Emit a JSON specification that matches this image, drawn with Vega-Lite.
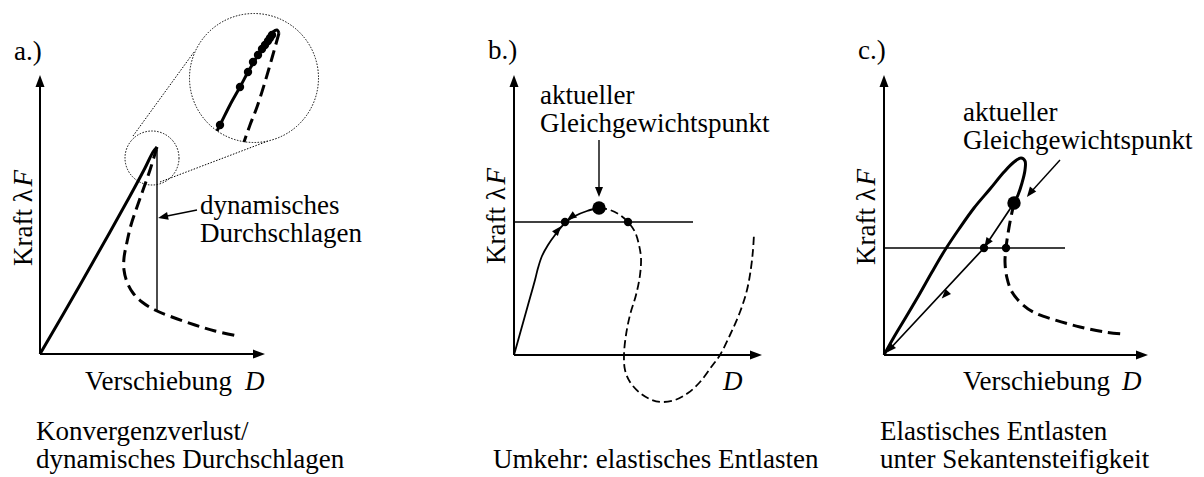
{
  "$schema": "https://vega.github.io/schema/vega-lite/v6.json",
  "width": 1204,
  "height": 477,
  "autosize": {"type": "fit", "contains": "padding"},
  "padding": 0,
  "background": "white",
  "config": {"view": {"stroke": null}, "text": {"font": "Liberation Serif", "fontSize": 27, "color": "black"}},
  "datasets": {
    "curves": [
      {"g": "aAxisY", "k": "axis", "i": 0, "x": 40, "y": 354}, {"g": "aAxisY", "k": "axis", "i": 1, "x": 40, "y": 80},
      {"g": "aAxisX", "k": "axis", "i": 0, "x": 40, "y": 354}, {"g": "aAxisX", "k": "axis", "i": 1, "x": 258, "y": 354},
      {"g": "aLoad", "k": "stable", "i": 0, "x": 40, "y": 354}, {"g": "aLoad", "k": "stable", "i": 1, "x": 80, "y": 285},
      {"g": "aLoad", "k": "stable", "i": 2, "x": 110, "y": 232}, {"g": "aLoad", "k": "stable", "i": 3, "x": 130, "y": 196},
      {"g": "aLoad", "k": "stable", "i": 4, "x": 145, "y": 168}, {"g": "aLoad", "k": "stable", "i": 5, "x": 153, "y": 152},
      {"g": "aLoad", "k": "stable", "i": 6, "x": 157, "y": 147},
      {"g": "aPost", "k": "unstable", "i": 0, "x": 157, "y": 147}, {"g": "aPost", "k": "unstable", "i": 1, "x": 150, "y": 170},
      {"g": "aPost", "k": "unstable", "i": 2, "x": 143, "y": 190}, {"g": "aPost", "k": "unstable", "i": 3, "x": 137, "y": 207},
      {"g": "aPost", "k": "unstable", "i": 4, "x": 131, "y": 225}, {"g": "aPost", "k": "unstable", "i": 5, "x": 127, "y": 242},
      {"g": "aPost", "k": "unstable", "i": 6, "x": 124, "y": 258}, {"g": "aPost", "k": "unstable", "i": 7, "x": 124, "y": 270},
      {"g": "aPost", "k": "unstable", "i": 8, "x": 127, "y": 282}, {"g": "aPost", "k": "unstable", "i": 9, "x": 133, "y": 293},
      {"g": "aPost", "k": "unstable", "i": 10, "x": 142, "y": 302}, {"g": "aPost", "k": "unstable", "i": 11, "x": 155, "y": 310},
      {"g": "aPost", "k": "unstable", "i": 12, "x": 172, "y": 317}, {"g": "aPost", "k": "unstable", "i": 13, "x": 195, "y": 325},
      {"g": "aPost", "k": "unstable", "i": 14, "x": 215, "y": 331}, {"g": "aPost", "k": "unstable", "i": 15, "x": 238, "y": 336},
      {"g": "aJump", "k": "guide", "i": 0, "x": 157, "y": 150}, {"g": "aJump", "k": "guide", "i": 1, "x": 157, "y": 311},
      {"g": "aNote", "k": "guide", "i": 0, "x": 197, "y": 210}, {"g": "aNote", "k": "guide", "i": 1, "x": 162, "y": 217},
      {"g": "aLensA", "k": "lens", "i": 0, "x": 133, "y": 136}, {"g": "aLensA", "k": "lens", "i": 1, "x": 194, "y": 52},
      {"g": "aLensB", "k": "lens", "i": 0, "x": 160, "y": 182}, {"g": "aLensB", "k": "lens", "i": 1, "x": 268, "y": 141},
      {"g": "aZoomLoad", "k": "stable", "i": 0, "x": 217, "y": 131}, {"g": "aZoomLoad", "k": "stable", "i": 1, "x": 222, "y": 121},
      {"g": "aZoomLoad", "k": "stable", "i": 2, "x": 230, "y": 105}, {"g": "aZoomLoad", "k": "stable", "i": 3, "x": 240, "y": 87},
      {"g": "aZoomLoad", "k": "stable", "i": 4, "x": 248, "y": 72}, {"g": "aZoomLoad", "k": "stable", "i": 5, "x": 255, "y": 60},
      {"g": "aZoomLoad", "k": "stable", "i": 6, "x": 262, "y": 48}, {"g": "aZoomLoad", "k": "stable", "i": 7, "x": 268, "y": 39},
      {"g": "aZoomLoad", "k": "stable", "i": 8, "x": 273, "y": 32}, {"g": "aZoomLoad", "k": "stable", "i": 9, "x": 277, "y": 30},
      {"g": "aZoomLoad", "k": "stable", "i": 10, "x": 279, "y": 33},
      {"g": "aZoomPost", "k": "unstable", "i": 0, "x": 279, "y": 33}, {"g": "aZoomPost", "k": "unstable", "i": 1, "x": 272, "y": 58},
      {"g": "aZoomPost", "k": "unstable", "i": 2, "x": 265, "y": 82}, {"g": "aZoomPost", "k": "unstable", "i": 3, "x": 257, "y": 107},
      {"g": "aZoomPost", "k": "unstable", "i": 4, "x": 250, "y": 125}, {"g": "aZoomPost", "k": "unstable", "i": 5, "x": 244, "y": 142},

      {"g": "bAxisY", "k": "axis", "i": 0, "x": 514, "y": 355}, {"g": "bAxisY", "k": "axis", "i": 1, "x": 514, "y": 80},
      {"g": "bAxisX", "k": "axis", "i": 0, "x": 514, "y": 355}, {"g": "bAxisX", "k": "axis", "i": 1, "x": 751, "y": 355},
      {"g": "bLoad", "k": "stableThin", "i": 0, "x": 514, "y": 355}, {"g": "bLoad", "k": "stableThin", "i": 1, "x": 521, "y": 330},
      {"g": "bLoad", "k": "stableThin", "i": 2, "x": 528, "y": 305}, {"g": "bLoad", "k": "stableThin", "i": 3, "x": 535, "y": 280},
      {"g": "bLoad", "k": "stableThin", "i": 4, "x": 538, "y": 268}, {"g": "bLoad", "k": "stableThin", "i": 5, "x": 542, "y": 256},
      {"g": "bLoad", "k": "stableThin", "i": 6, "x": 548, "y": 245}, {"g": "bLoad", "k": "stableThin", "i": 7, "x": 555, "y": 235},
      {"g": "bLoad", "k": "stableThin", "i": 8, "x": 565, "y": 223}, {"g": "bLoad", "k": "stableThin", "i": 9, "x": 575, "y": 216},
      {"g": "bLoad", "k": "stableThin", "i": 10, "x": 587, "y": 211}, {"g": "bLoad", "k": "stableThin", "i": 11, "x": 599, "y": 208},
      {"g": "bPost", "k": "unstableThin", "i": 0, "x": 599, "y": 208}, {"g": "bPost", "k": "unstableThin", "i": 1, "x": 610, "y": 210},
      {"g": "bPost", "k": "unstableThin", "i": 2, "x": 620, "y": 215}, {"g": "bPost", "k": "unstableThin", "i": 3, "x": 628, "y": 222},
      {"g": "bPost", "k": "unstableThin", "i": 4, "x": 635, "y": 232}, {"g": "bPost", "k": "unstableThin", "i": 5, "x": 639, "y": 245},
      {"g": "bPost", "k": "unstableThin", "i": 6, "x": 641, "y": 258}, {"g": "bPost", "k": "unstableThin", "i": 7, "x": 640, "y": 275},
      {"g": "bPost", "k": "unstableThin", "i": 8, "x": 636, "y": 295}, {"g": "bPost", "k": "unstableThin", "i": 9, "x": 630, "y": 315},
      {"g": "bPost", "k": "unstableThin", "i": 10, "x": 626, "y": 335}, {"g": "bPost", "k": "unstableThin", "i": 11, "x": 624, "y": 355},
      {"g": "bPost", "k": "unstableThin", "i": 12, "x": 625, "y": 370}, {"g": "bPost", "k": "unstableThin", "i": 13, "x": 630, "y": 382},
      {"g": "bPost", "k": "unstableThin", "i": 14, "x": 640, "y": 393}, {"g": "bPost", "k": "unstableThin", "i": 15, "x": 652, "y": 400},
      {"g": "bPost", "k": "unstableThin", "i": 16, "x": 662, "y": 402}, {"g": "bPost", "k": "unstableThin", "i": 17, "x": 675, "y": 400},
      {"g": "bPost", "k": "unstableThin", "i": 18, "x": 688, "y": 393}, {"g": "bPost", "k": "unstableThin", "i": 19, "x": 700, "y": 382},
      {"g": "bPost", "k": "unstableThin", "i": 20, "x": 712, "y": 366}, {"g": "bPost", "k": "unstableThin", "i": 21, "x": 720, "y": 355},
      {"g": "bPost", "k": "unstableThin", "i": 22, "x": 730, "y": 335}, {"g": "bPost", "k": "unstableThin", "i": 23, "x": 740, "y": 312},
      {"g": "bPost", "k": "unstableThin", "i": 24, "x": 747, "y": 290}, {"g": "bPost", "k": "unstableThin", "i": 25, "x": 751, "y": 268},
      {"g": "bPost", "k": "unstableThin", "i": 26, "x": 753, "y": 250}, {"g": "bPost", "k": "unstableThin", "i": 27, "x": 754, "y": 234},
      {"g": "bLevel", "k": "guide", "i": 0, "x": 514, "y": 222}, {"g": "bLevel", "k": "guide", "i": 1, "x": 693, "y": 222},
      {"g": "bNote", "k": "guide", "i": 0, "x": 599, "y": 140}, {"g": "bNote", "k": "guide", "i": 1, "x": 599, "y": 190},

      {"g": "cAxisY", "k": "axis", "i": 0, "x": 884, "y": 355}, {"g": "cAxisY", "k": "axis", "i": 1, "x": 884, "y": 80},
      {"g": "cAxisX", "k": "axis", "i": 0, "x": 884, "y": 355}, {"g": "cAxisX", "k": "axis", "i": 1, "x": 1142, "y": 355},
      {"g": "cLoop", "k": "stable", "i": 0, "x": 884, "y": 355}, {"g": "cLoop", "k": "stable", "i": 1, "x": 894, "y": 337},
      {"g": "cLoop", "k": "stable", "i": 2, "x": 906, "y": 317}, {"g": "cLoop", "k": "stable", "i": 3, "x": 919, "y": 295},
      {"g": "cLoop", "k": "stable", "i": 4, "x": 932, "y": 272}, {"g": "cLoop", "k": "stable", "i": 5, "x": 945, "y": 250},
      {"g": "cLoop", "k": "stable", "i": 6, "x": 959, "y": 229}, {"g": "cLoop", "k": "stable", "i": 7, "x": 974, "y": 208},
      {"g": "cLoop", "k": "stable", "i": 8, "x": 990, "y": 189}, {"g": "cLoop", "k": "stable", "i": 9, "x": 1004, "y": 172},
      {"g": "cLoop", "k": "stable", "i": 10, "x": 1014, "y": 162}, {"g": "cLoop", "k": "stable", "i": 11, "x": 1021, "y": 158},
      {"g": "cLoop", "k": "stable", "i": 12, "x": 1025, "y": 161}, {"g": "cLoop", "k": "stable", "i": 13, "x": 1025, "y": 170},
      {"g": "cLoop", "k": "stable", "i": 14, "x": 1022, "y": 183}, {"g": "cLoop", "k": "stable", "i": 15, "x": 1018, "y": 195},
      {"g": "cLoop", "k": "stable", "i": 16, "x": 1014, "y": 203},
      {"g": "cPost", "k": "unstable", "i": 0, "x": 1014, "y": 203}, {"g": "cPost", "k": "unstable", "i": 1, "x": 1010, "y": 222},
      {"g": "cPost", "k": "unstable", "i": 2, "x": 1007, "y": 240}, {"g": "cPost", "k": "unstable", "i": 3, "x": 1006, "y": 248},
      {"g": "cPost", "k": "unstable", "i": 4, "x": 1005, "y": 262}, {"g": "cPost", "k": "unstable", "i": 5, "x": 1007, "y": 278},
      {"g": "cPost", "k": "unstable", "i": 6, "x": 1012, "y": 292}, {"g": "cPost", "k": "unstable", "i": 7, "x": 1022, "y": 304},
      {"g": "cPost", "k": "unstable", "i": 8, "x": 1035, "y": 313}, {"g": "cPost", "k": "unstable", "i": 9, "x": 1055, "y": 320},
      {"g": "cPost", "k": "unstable", "i": 10, "x": 1080, "y": 327}, {"g": "cPost", "k": "unstable", "i": 11, "x": 1105, "y": 332},
      {"g": "cPost", "k": "unstable", "i": 12, "x": 1124, "y": 334},
      {"g": "cUnload", "k": "unload", "i": 0, "x": 1014, "y": 203}, {"g": "cUnload", "k": "unload", "i": 1, "x": 984, "y": 248},
      {"g": "cUnload", "k": "unload", "i": 2, "x": 888, "y": 351},
      {"g": "cLevel", "k": "guide", "i": 0, "x": 884, "y": 248}, {"g": "cLevel", "k": "guide", "i": 1, "x": 1065, "y": 248},
      {"g": "cNote", "k": "guide", "i": 0, "x": 1060, "y": 160}, {"g": "cNote", "k": "guide", "i": 1, "x": 1031, "y": 192}
    ],
    "heads": [
      {"k": "axis", "x": 40, "y": 81, "heading": 0}, {"k": "axis", "x": 259, "y": 354, "heading": 90},
      {"k": "axis", "x": 514, "y": 81, "heading": 0}, {"k": "axis", "x": 756, "y": 355, "heading": 90},
      {"k": "axis", "x": 884, "y": 81, "heading": 0}, {"k": "axis", "x": 1142, "y": 355, "heading": 90},
      {"k": "note", "x": 163, "y": 217, "heading": 258}, {"k": "note", "x": 599, "y": 192, "heading": 180},
      {"k": "note", "x": 1030, "y": 193, "heading": 218},
      {"k": "path", "x": 558, "y": 230, "heading": 40}, {"k": "path", "x": 571, "y": 217, "heading": 235},
      {"k": "path", "x": 987, "y": 243, "heading": 214}, {"k": "path", "x": 945, "y": 295, "heading": 223},
      {"k": "path", "x": 890, "y": 349, "heading": 223}
    ],
    "nodes": [
      {"k": "node", "x": 220, "y": 125}, {"k": "node", "x": 240, "y": 87}, {"k": "node", "x": 248, "y": 72},
      {"k": "node", "x": 253, "y": 62}, {"k": "node", "x": 258, "y": 55}, {"k": "node", "x": 262, "y": 49},
      {"k": "node", "x": 265, "y": 45}, {"k": "node", "x": 268, "y": 41}, {"k": "node", "x": 270, "y": 38},
      {"k": "node", "x": 272, "y": 35},
      {"k": "node", "x": 565, "y": 222}, {"k": "node", "x": 628, "y": 222},
      {"k": "node", "x": 984, "y": 248}, {"k": "node", "x": 1006, "y": 248},
      {"k": "state", "x": 599, "y": 208}, {"k": "state", "x": 1014, "y": 203},
      {"k": "lensSmall", "x": 152, "y": 158}, {"k": "lensLarge", "x": 254, "y": 78}
    ],
    "labels": [
      {"s": "upright", "t": "a.)", "x": 14, "y": 60},
      {"s": "upright", "t": "b.)", "x": 488, "y": 59},
      {"s": "upright", "t": "c.)", "x": 858, "y": 59},
      {"s": "upright", "t": "dynamisches", "x": 200, "y": 214},
      {"s": "upright", "t": "Durchschlagen", "x": 200, "y": 242},
      {"s": "upright", "t": "Verschiebung", "x": 85, "y": 390},
      {"s": "upright", "t": "Verschiebung", "x": 963, "y": 390},
      {"s": "upright", "t": "aktueller", "x": 540, "y": 104},
      {"s": "upright", "t": "Gleichgewichtspunkt", "x": 540, "y": 132},
      {"s": "upright", "t": "aktueller", "x": 963, "y": 121},
      {"s": "upright", "t": "Gleichgewichtspunkt", "x": 963, "y": 149},
      {"s": "upright", "t": "Konvergenzverlust/", "x": 36, "y": 440},
      {"s": "upright", "t": "dynamisches Durchschlagen", "x": 36, "y": 468},
      {"s": "upright", "t": "Umkehr: elastisches Entlasten", "x": 493, "y": 468},
      {"s": "upright", "t": "Elastisches Entlasten", "x": 880, "y": 440},
      {"s": "upright", "t": "unter Sekantensteifigkeit", "x": 880, "y": 468},
      {"s": "italic", "t": "D", "x": 245, "y": 390},
      {"s": "italic", "t": "D", "x": 1122, "y": 390},
      {"s": "italic", "t": "D", "x": 723, "y": 390},
      {"s": "axisName", "t": "Kraft λ", "x": 32, "y": 266},
      {"s": "axisName", "t": "Kraft λ", "x": 505, "y": 264},
      {"s": "axisName", "t": "Kraft λ", "x": 875, "y": 265},
      {"s": "axisSymbol", "t": "F", "x": 32, "y": 170},
      {"s": "axisSymbol", "t": "F", "x": 505, "y": 168},
      {"s": "axisSymbol", "t": "F", "x": 875, "y": 169}
    ]
  },
  "encoding": {
    "x": {"field": "x", "type": "quantitative", "scale": {"domain": [0, 1204], "nice": false, "zero": false}, "axis": null},
    "y": {"field": "y", "type": "quantitative", "scale": {"domain": [0, 477], "nice": false, "zero": false, "reverse": true}, "axis": null}
  },
  "layer": [
    {
      "data": {"name": "curves"},
      "transform": [{"filter": "datum.k === 'lens'"}],
      "mark": {"type": "line", "color": "black", "strokeWidth": 1, "strokeDash": [1.5, 1.5]},
      "encoding": {"detail": {"field": "g"}, "order": {"field": "i"}}
    },
    {
      "data": {"name": "nodes"},
      "transform": [{"filter": "datum.k === 'lensSmall'"}],
      "mark": {"type": "point", "shape": "circle", "filled": false, "size": 2916, "color": "black", "opacity": 1, "strokeWidth": 1, "strokeDash": [1.5, 1.5]}
    },
    {
      "data": {"name": "nodes"},
      "transform": [{"filter": "datum.k === 'lensLarge'"}],
      "mark": {"type": "point", "shape": "circle", "filled": true, "fill": "white", "size": 16641, "stroke": "black", "opacity": 1, "strokeWidth": 1, "strokeDash": [1.5, 1.5]}
    },
    {
      "data": {"name": "curves"},
      "transform": [{"filter": "datum.k === 'axis'"}],
      "mark": {"type": "line", "color": "black", "strokeWidth": 2},
      "encoding": {"detail": {"field": "g"}, "order": {"field": "i"}}
    },
    {
      "data": {"name": "curves"},
      "transform": [{"filter": "datum.k === 'guide'"}],
      "mark": {"type": "line", "color": "black", "strokeWidth": 1.4},
      "encoding": {"detail": {"field": "g"}, "order": {"field": "i"}}
    },
    {
      "data": {"name": "curves"},
      "transform": [{"filter": "datum.k === 'unload'"}],
      "mark": {"type": "line", "color": "black", "strokeWidth": 1.7},
      "encoding": {"detail": {"field": "g"}, "order": {"field": "i"}}
    },
    {
      "data": {"name": "curves"},
      "transform": [{"filter": "datum.k === 'stable'"}],
      "mark": {"type": "line", "color": "black", "strokeWidth": 3, "strokeJoin": "round", "interpolate": "catmull-rom"},
      "encoding": {"detail": {"field": "g"}, "order": {"field": "i"}}
    },
    {
      "data": {"name": "curves"},
      "transform": [{"filter": "datum.k === 'unstable'"}],
      "mark": {"type": "line", "color": "black", "strokeWidth": 3, "strokeDash": [12, 6], "interpolate": "catmull-rom"},
      "encoding": {"detail": {"field": "g"}, "order": {"field": "i"}}
    },
    {
      "data": {"name": "curves"},
      "transform": [{"filter": "datum.k === 'stableThin'"}],
      "mark": {"type": "line", "color": "black", "strokeWidth": 1.8, "interpolate": "catmull-rom"},
      "encoding": {"detail": {"field": "g"}, "order": {"field": "i"}}
    },
    {
      "data": {"name": "curves"},
      "transform": [{"filter": "datum.k === 'unstableThin'"}],
      "mark": {"type": "line", "color": "black", "strokeWidth": 1.8, "strokeDash": [8, 4], "interpolate": "catmull-rom"},
      "encoding": {"detail": {"field": "g"}, "order": {"field": "i"}}
    },
    {
      "data": {"name": "heads"},
      "transform": [{"filter": "datum.k === 'axis'"}],
      "mark": {"type": "point", "shape": "M0,-1L-0.75,1L0.75,1Z", "filled": true, "size": 144, "color": "black", "opacity": 1},
      "encoding": {"angle": {"field": "heading", "type": "quantitative", "scale": null}}
    },
    {
      "data": {"name": "heads"},
      "transform": [{"filter": "datum.k === 'note'"}],
      "mark": {"type": "point", "shape": "M0,-1L-0.8,1L0.8,1Z", "filled": true, "size": 100, "color": "black", "opacity": 1},
      "encoding": {"angle": {"field": "heading", "type": "quantitative", "scale": null}}
    },
    {
      "data": {"name": "heads"},
      "transform": [{"filter": "datum.k === 'path'"}],
      "mark": {"type": "point", "shape": "M0,-1L-0.8,1L0.8,1Z", "filled": true, "size": 90, "color": "black", "opacity": 1},
      "encoding": {"angle": {"field": "heading", "type": "quantitative", "scale": null}}
    },
    {
      "data": {"name": "nodes"},
      "transform": [{"filter": "datum.k === 'node'"}],
      "mark": {"type": "point", "shape": "circle", "filled": true, "size": 70, "color": "black", "opacity": 1}
    },
    {
      "data": {"name": "nodes"},
      "transform": [{"filter": "datum.k === 'state'"}],
      "mark": {"type": "point", "shape": "circle", "filled": true, "size": 180, "color": "black", "opacity": 1}
    },
    {
      "data": {"name": "labels"},
      "transform": [{"filter": "datum.s === 'upright'"}],
      "mark": {"type": "text", "align": "left", "baseline": "alphabetic"},
      "encoding": {"text": {"field": "t"}}
    },
    {
      "data": {"name": "labels"},
      "transform": [{"filter": "datum.s === 'italic'"}],
      "mark": {"type": "text", "align": "left", "baseline": "alphabetic", "fontStyle": "italic"},
      "encoding": {"text": {"field": "t"}}
    },
    {
      "data": {"name": "labels"},
      "transform": [{"filter": "datum.s === 'axisName'"}],
      "mark": {"type": "text", "align": "left", "baseline": "alphabetic", "angle": 270},
      "encoding": {"text": {"field": "t"}}
    },
    {
      "data": {"name": "labels"},
      "transform": [{"filter": "datum.s === 'axisSymbol'"}],
      "mark": {"type": "text", "align": "right", "baseline": "alphabetic", "angle": 270, "fontStyle": "italic"},
      "encoding": {"text": {"field": "t"}}
    }
  ]
}
